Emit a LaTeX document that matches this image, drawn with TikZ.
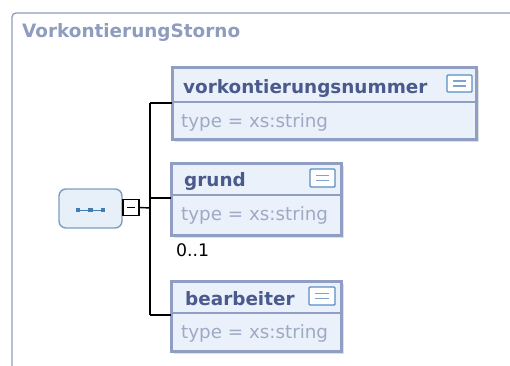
\documentclass[tikz,border=0pt]{standalone}
\usepackage{fontspec}
\setmainfont{DejaVu Sans}
\definecolor{frame}{HTML}{8E9DBE}
\definecolor{boxline}{HTML}{8F9EC2}
\definecolor{boxfill}{HTML}{EBF1FB}
\definecolor{namecol}{HTML}{4B5A8C}
\definecolor{typecol}{HTML}{9EA9C4}
\definecolor{seqline}{HTML}{7E9DC0}
\definecolor{seqfill}{HTML}{E7EFF9}
\definecolor{glyph}{HTML}{3F7DB4}
\definecolor{iconline}{HTML}{5B8EC2}
\tikzset{
  x=1pt, y=-1pt,
  elembox/.style={draw=boxline, line width=3pt, fill=boxfill},
  divline/.style={draw=boxline, line width=1.5pt},
  shadowbox/.style={fill=black!12},
  nametext/.style={anchor=base west, inner sep=0pt, text=namecol, font=\fontsize{18.4}{19}\selectfont\bfseries},
  typetext/.style={anchor=base west, inner sep=0pt, text=typecol, font=\fontsize{18.3}{19}\selectfont},
  docicon/.style={draw=iconline, line width=1.4pt, fill=white, rounded corners=1pt},
  conn/.style={draw=black, line width=1.4pt},
}
\newcommand{\docglyph}[4]{%
  \draw[docicon] (#1,#2) rectangle (#3,#4);
  \draw[iconline!80, line width=1.2pt] ({#1+6},{(#2+#4)/2-2.5}) -- ({#3-6},{(#2+#4)/2-2.5});
  \draw[iconline!80, line width=1.2pt] ({#1+6},{(#2+#4)/2+2.5}) -- ({#3-6},{(#2+#4)/2+2.5});
}
\begin{document}
\begin{tikzpicture}
\useasboundingbox (0,0) rectangle (510,365);
\fill[white] (0,0) rectangle (510,365);
% outer frame
\draw[frame, line width=1.3pt, rounded corners=4pt] (12,380) -- (12,13) -- (530,13);
\node[anchor=base west, inner sep=0pt, text=frame, font=\fontsize{18.4}{19}\selectfont\bfseries] (title) at (22,37) {VorkontierungStorno};

% sequence node
\node[draw=seqline, line width=1.4pt, fill=seqfill, rounded corners=7pt, minimum width=63pt, minimum height=39pt, inner sep=0pt] (seq) at (90.5,208.5) {};
\draw[glyph, line width=0.8pt] (78,210) -- (103,210);
\foreach \gx in {78,90.5,103} \fill[glyph] (\gx-2.4,207.6) rectangle (\gx+2.4,212.4);
% minus box
\node[draw=black, line width=1.4pt, fill=white, minimum width=16pt, minimum height=16pt, inner sep=0pt] (minus) at (131,207.5) {};
\draw[black, line width=1.4pt] (127,207.5) -- (135,207.5);
\coordinate (bus) at (150,208);

% element boxes
% box 1
\fill[shadowbox] (175,70) rectangle (479,142);
\draw[elembox] (172,67) rectangle (476,139);
\draw[divline] (173,102) -- (475,102);
\node[nametext] (n1) at (183,93) {vorkontierungsnummer};
\node[typetext] (t1) at (181,127) {type = xs:string};
\docglyph{447}{75}{472}{92}
\coordinate (b1) at (172,103);
% box 2
\fill[shadowbox] (174,166) rectangle (344,238);
\draw[elembox] (171,163) rectangle (341,235);
\draw[divline] (172,195) -- (340,195);
\node[nametext] (n2) at (184,186) {grund};
\node[typetext] (t2) at (181,220) {type = xs:string};
\docglyph{310}{169}{335}{187}
\coordinate (b2) at (171,198);
\node[anchor=base west, inner sep=0pt, font=\fontsize{17.3}{18}\selectfont] (occ) at (176,256) {0..1};
% box 3
\fill[shadowbox] (174,284) rectangle (344,354);
\draw[elembox] (171,281) rectangle (341,351);
\draw[divline] (172,313) -- (340,313);
\node[nametext] (n3) at (185,305) {bearbeiter};
\node[typetext] (t3) at (181,338) {type = xs:string};
\docglyph{309}{287}{335}{305}
\coordinate (b3) at (171,315);

% connectors
\draw[conn] (minus.east) -- (bus);
\draw[conn] (bus |- b1) -- (bus |- b3);
\draw[conn] (bus |- b1) -- (b1);
\draw[conn] (bus |- b2) -- (b2);
\draw[conn] (bus |- b3) -- (b3);
\end{tikzpicture}
\end{document}
